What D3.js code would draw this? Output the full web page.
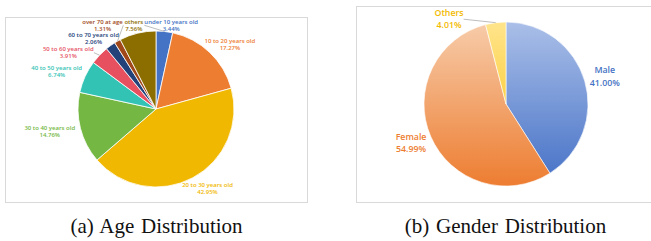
<!DOCTYPE html>
<html>
<head>
  <meta charset="utf-8">
  <script src="https://d3js.org/d3.v7.min.js"></script>
  <style>
    body { margin: 0; background: #fff; }
  </style>
</head>
<body>
<div id="chart"></div>
<script>

    const ageGroups = ["under 10 years old", "10 to 20 years old", "20 to 30 years old", "30 to 40 years old",
        "40 to 50 years old", "50 to 60 years old", "60 to 70 years old", "over 70 at age", "others"]
    const agePct = [3.44, 17.27, 42.95, 14.76, 6.74, 3.91, 2.06, 1.31, 7.56]
    const ageColors = ["#4472C4", "#ED7D31", "#F0B800", "#74B843", "#33C3B4", "#E6505F", "#24427A", "#A0481A", "#8C6D00"]

    const genders = ["Male", "Female", "Others"]
    const genderPct = [41.00, 54.99, 4.01]
    const genderLight = ["#AABFE8", "#F7CCAA", "#FFE48C"]
    const genderDark = ["#4470C6", "#ED7D31", "#F8BE00"]
    const genderText = ["#4472C4", "#ED7D31", "#F2BA00"]

    const captions = ["(a) Age Distribution", "(b) Gender Distribution"]

    const width = 651, height = 241

    const svg = d3.select("#chart").append("svg")
        .attr("width", width)
        .attr("height", height)

    const defs = svg.append("defs")

    // panel frames
    svg.append("rect").attr("x", 5.5).attr("y", 17.5).attr("width", 302).attr("height", 185)
        .attr("fill", "none").attr("stroke", "#d9d9d9")
    svg.append("rect").attr("x", 356.5).attr("y", 6.5).attr("width", 320).attr("height", 196)
        .attr("fill", "none").attr("stroke", "#d9d9d9")

    function drawPie(o) {
        const g = svg.append("g").attr("transform", `translate(${o.cx},${o.cy})`)

        const data = o.names.map((n, i) => ({ name: n, v: o.values[i], i: i }))
        const arcs = d3.pie().sort(null).value(d => d.v)(data)
        const arc = d3.arc().innerRadius(0).outerRadius(o.r)

        g.selectAll("path.slice")
            .data(arcs).join("path")
            .attr("class", "slice")
            .attr("d", arc)
            .attr("fill", d => o.fill(d.data.i))
            .attr("stroke", "#fff")
            .attr("stroke-width", o.strokeW)

        const lines = g.append("g")

        const lab = g.selectAll("text.lab")
            .data(arcs).join("text")
            .attr("class", "lab")
            .attr("font-family", "'Open Sans', 'Noto Sans', sans-serif")
            .attr("font-size", o.fs)
            .attr("font-weight", 600)
            .attr("fill", d => o.textColor(d.data.i))
            .attr("text-anchor", "middle")
        lab.append("tspan").attr("x", 0).attr("y", 0).text(d => d.data.name)
        lab.append("tspan").attr("x", 0).attr("dy", o.lh).text(d => d.data.v.toFixed(2) + "%")

        const top = o.boxTop - o.cy, bottom = o.boxBottom - o.cy
        const gap = o.fs * 0.4, trim = o.fs * 0.2, margin = o.fs * 0.25

        // natural spot: just outside the slice along its mid angle
        const L = arcs.map((d, k) => {
            const bb = lab.nodes()[k].getBBox()
            const h = bb.height - 2 * trim
            const a = (d.startAngle + d.endAngle) / 2
            const s = Math.sin(a), c = -Math.cos(a)
            const pad = c > 0 ? 6 : 6 * Math.abs(s)
            const x = (o.r + pad) * s + bb.width / 2 * s
            const y = (o.r + pad) * c + h / 2 * c
            return { a, s, c, bb, m: d.data.v, w: bb.width, h, x, y, x0: x, y0: y }
        })

        const yMin = p => top + p.h / 2 + margin
        const yMax = p => bottom - p.h / 2 - margin
        const near = p => {
            const nx = Math.max(p.x - p.w / 2, Math.min(p.x + p.w / 2, 0))
            const ny = Math.max(p.y - p.h / 2, Math.min(p.y + p.h / 2, 0))
            return Math.hypot(nx, ny)
        }
        // how far a label has slid in toward the centre
        const inward = p => -((p.x - p.x0) * p.s + (p.y - p.y0) * p.c)

        // push overlapping labels apart, small slices give way more
        for (let it = 0; it < 300; it++) {
            let moved = false
            for (let i = 0; i < L.length; i++) {
                for (let j = i + 1; j < L.length; j++) {
                    const p = L[i], q = L[j]
                    const ox = (p.w + q.w) / 2 + 1 - Math.abs(p.x - q.x)
                    const oy = (p.h + q.h) / 2 + 1 - Math.abs(p.y - q.y)
                    if (ox <= 0 || oy <= 0) continue
                    moved = true
                    const wp = q.m / (p.m + q.m), wq = 1 - wp
                    if (ox < oy) {
                        const sp = p.x < q.x ? -1 : 1
                        p.x += sp * (ox * wp + 0.05)
                        q.x -= sp * (ox * wq + 0.05)
                    } else {
                        const up = p.y < q.y ? p : q, dn = up === p ? q : p
                        let su = oy * (up === p ? wp : wq) + 0.05, sd = oy + 0.1 - su
                        if (up.y - su < yMin(up)) { const f = Math.max(0, up.y - yMin(up)); sd += su - f; su = f }
                        if (dn.y + sd > yMax(dn)) { const f = Math.max(0, yMax(dn) - dn.y); su += sd - f; sd = f }
                        up.y -= su
                        dn.y += sd
                    }
                }
            }
            L.forEach(p => {
                p.y = Math.max(yMin(p), Math.min(yMax(p), p.y))
                // labels that slid in toward the pie are moved sideways off it
                if (inward(p) < 2) return
                const dir = p.s < 0 ? -1 : 1
                let n = 0
                while (near(p) < o.r + gap && n++ < 400) { p.x += dir * 0.25; moved = true }
            })
            if (!moved) break
        }

        lab.attr("transform", (d, k) => {
            const p = L[k]
            return `translate(${p.x - (p.bb.x + p.w / 2)},${p.y - (p.bb.y + p.bb.height / 2)})`
        })

        // leader lines for displaced labels
        L.forEach(p => {
            if (Math.hypot(p.x - p.x0, p.y - p.y0) < 4) return
            const ex = p.s < 0 ? p.x + p.w / 2 : p.x - p.w / 2
            lines.append("line")
                .attr("x1", ex).attr("y1", p.y)
                .attr("x2", o.r * p.s).attr("y2", o.r * p.c)
                .attr("stroke", "#a0a0a0")
                .attr("stroke-width", 0.7)
        })
    }

    // (a) age
    drawPie({
        cx: 156, cy: 109, r: 78,
        names: ageGroups, values: agePct,
        fill: i => ageColors[i], textColor: i => ageColors[i],
        strokeW: 0.8, fs: 6, lh: 7,
        boxTop: 17.5, boxBottom: 202.5
    })

    // (b) gender, vertical gradient fills
    const gr = 82
    genders.forEach((n, i) => {
        const lg = defs.append("linearGradient")
            .attr("id", "grad" + i)
            .attr("gradientUnits", "userSpaceOnUse")
            .attr("x1", 0).attr("x2", 0).attr("y1", -gr).attr("y2", gr)
        lg.append("stop").attr("offset", "0%").attr("stop-color", genderLight[i])
        lg.append("stop").attr("offset", "100%").attr("stop-color", genderDark[i])
    })

    drawPie({
        cx: 506, cy: 104, r: gr,
        names: genders, values: genderPct,
        fill: i => `url(#grad${i})`, textColor: i => genderText[i],
        strokeW: 0.6, fs: 8.8, lh: 12.5,
        boxTop: 6.5, boxBottom: 202.5
    })

    svg.selectAll("text.cap")
        .data(captions).join("text")
        .attr("class", "cap")
        .attr("x", (d, i) => i === 0 ? 156.5 : 505.5)
        .attr("y", 233)
        .attr("text-anchor", "middle")
        .attr("font-family", "'Liberation Serif', 'DejaVu Serif', serif")
        .attr("font-size", 21)
        .attr("word-spacing", 1.5)
        .attr("fill", "#111")
        .text(d => d)

</script>
</body>
</html>
